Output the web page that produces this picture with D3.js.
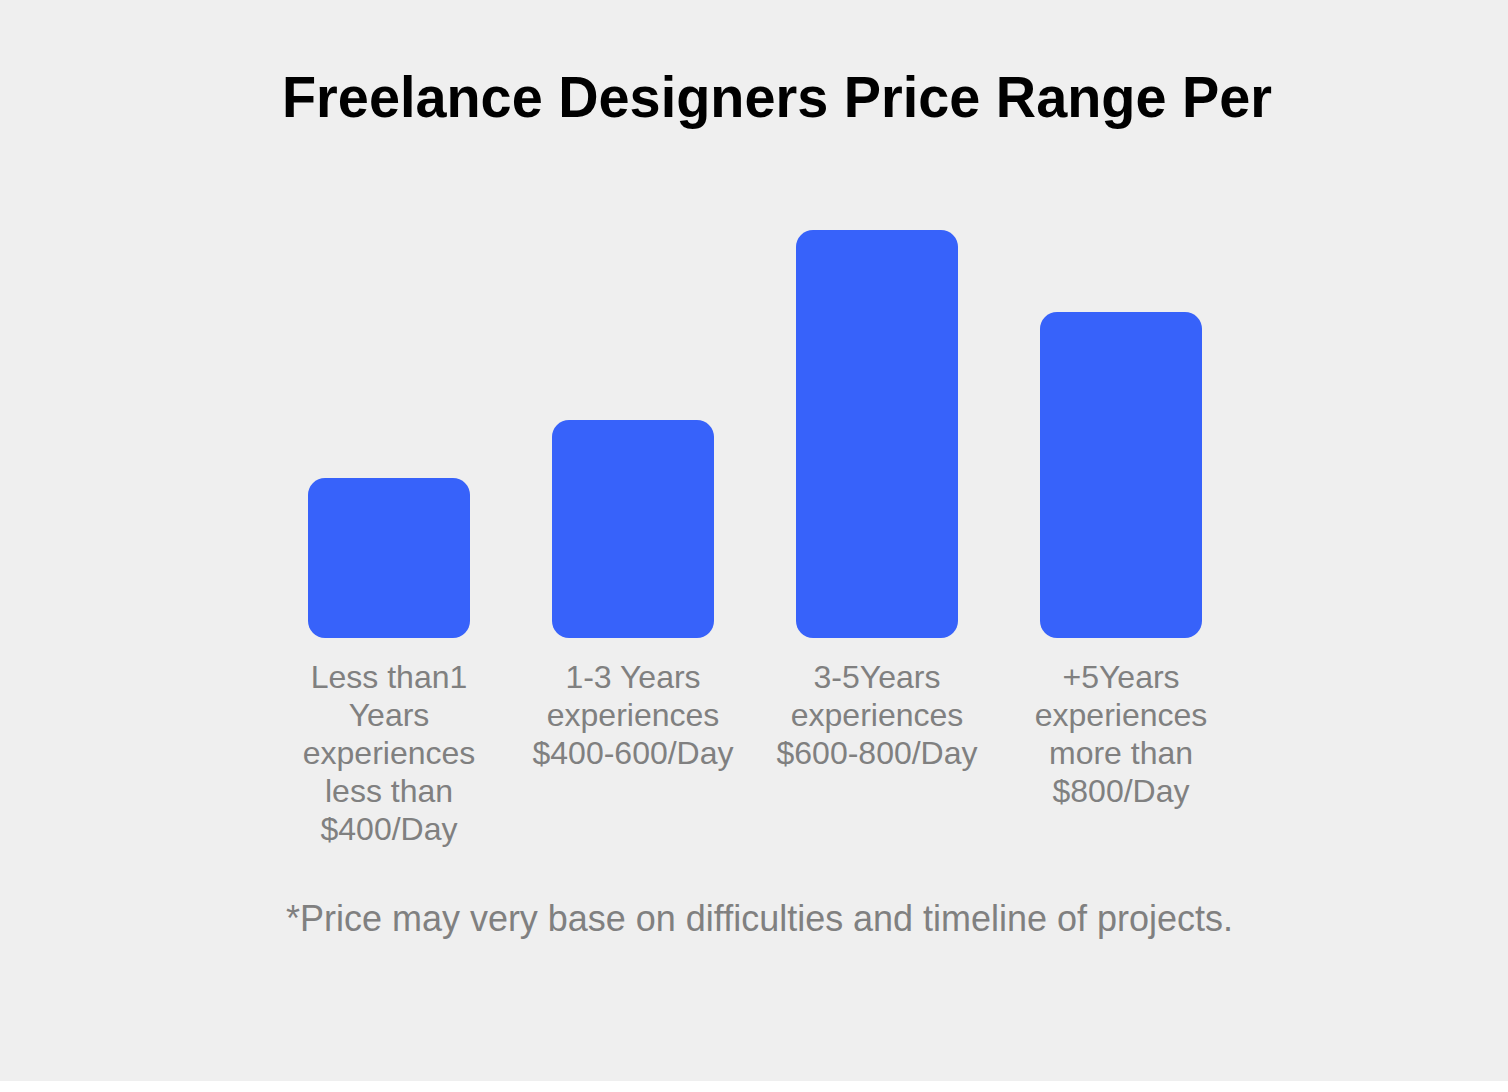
<!DOCTYPE html>
<html>
<head>
<meta charset="utf-8">
<script src="https://cdn.jsdelivr.net/npm/d3@7"></script>
<style>
  html, body { margin: 0; padding: 0; background: #ffffff; }
  svg { display: block; }
</style>
</head>
<body>
<svg id="chart" width="1508" height="1092"></svg>
<script>
const title = "Freelance Designers Price Range Per";
const categories = ["lt1", "1-3", "3-5", "5plus"];
const labelLines = [
  ["Less than1", "Years", "experiences", "less than", "$400/Day"],
  ["1-3 Years", "experiences", "$400-600/Day"],
  ["3-5Years", "experiences", "$600-800/Day"],
  ["+5Years", "experiences", "more than", "$800/Day"]
];
const values = [160, 218, 408, 326];
const footnote = "*Price may very base on difficulties and timeline of projects.";

const svg = d3.select("#chart");
svg.append("rect").attr("x", 0).attr("y", 0).attr("width", 1508).attr("height", 1081).attr("fill", "#efefef");

const x = d3.scaleBand().domain(categories).range([267, 1243]).paddingInner(82 / 244).paddingOuter(41 / 244);
const y = d3.scaleLinear().domain([0, 408]).range([638, 230]);

svg.append("text")
  .attr("x", 777).attr("y", 117)
  .attr("text-anchor", "middle")
  .attr("font-family", "Liberation Sans, Arial, Helvetica, sans-serif")
  .attr("font-weight", "bold")
  .attr("font-size", 57)
  .attr("fill", "#000")
  .attr("textLength", 990)
  .attr("lengthAdjust", "spacingAndGlyphs")
  .text(title);

svg.selectAll("rect.bar").data(values).enter().append("rect")
  .attr("class", "bar")
  .attr("x", (d, i) => x(categories[i]))
  .attr("y", d => y(d))
  .attr("width", x.bandwidth())
  .attr("height", d => y(0) - y(d))
  .attr("rx", 17).attr("ry", 17)
  .attr("fill", "#3762fa");

const lg = svg.selectAll("g.lbl").data(labelLines).enter().append("g")
  .attr("class", "lbl")
  .attr("transform", (d, i) => `translate(${x(categories[i]) + x.bandwidth() / 2},0)`);
lg.selectAll("text").data(d => d).enter().append("text")
  .attr("x", 0)
  .attr("y", (d, j) => 688 + j * 38)
  .attr("text-anchor", "middle")
  .attr("font-family", "Liberation Sans, Arial, Helvetica, sans-serif")
  .attr("font-size", 32)
  .attr("fill", "#808080")
  .text(d => d);

svg.append("text")
  .attr("x", 759.5).attr("y", 931)
  .attr("text-anchor", "middle")
  .attr("font-family", "Liberation Sans, Arial, Helvetica, sans-serif")
  .attr("font-size", 36)
  .attr("fill", "#808080")
  .attr("textLength", 947)
  .attr("lengthAdjust", "spacingAndGlyphs")
  .text(footnote);
</script>
</body>
</html>
